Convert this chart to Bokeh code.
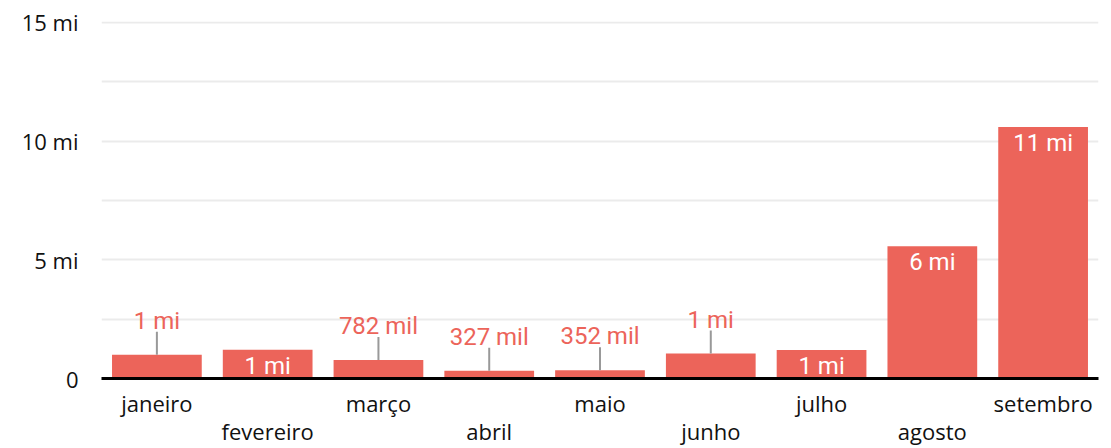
from bokeh.plotting import figure
from bokeh.models import ColumnDataSource, FixedTicker, LinearAxis, Range1d
from bokeh.core.properties import value
from bokeh.embed import file_html
from bokeh.resources import INLINE

# ---- data ----
months = ["janeiro", "fevereiro", "março", "abril", "maio", "junho", "julho", "agosto", "setembro"]
values = [1000000, 1210000, 782000, 327000, 352000, 1050000, 1200000, 5570000, 10600000]
y_ticks = [0, 5, 10, 15]
y_tick_labels = ["0", "5 mi", "10 mi", "15 mi"]
grid_ticks = [0, 2.5, 5, 7.5, 10, 12.5, 15]

BAR = "#EC645A"
AXIS_FONT = "Open Sans"
LABEL_FONT = "Roboto"


def fmt(v):
    if v < 950_000:
        return f"{round(v / 1000)} mil"
    return f"{round(v / 1_000_000)} mi"


W, H = 1103, 448
BT, BB, BL, BR = 21, 70, 101, 5
Y_END = 15.04
frame_h = H - BT - BB
px_per_unit = frame_h / Y_END

idx = list(range(len(months)))
vals_m = [v / 1_000_000 for v in values]
labels = [fmt(v) for v in values]
inside = [v >= 1.1 for v in vals_m]

src_bar = ColumnDataSource(dict(x=idx, top=vals_m))
src_in = ColumnDataSource(dict(
    x=[k for k, i in zip(idx, inside) if i],
    top=[v for v, i in zip(vals_m, inside) if i],
    lab=[l for l, i in zip(labels, inside) if i],
))
lead = 23 / px_per_unit
src_out = ColumnDataSource(dict(
    x=[k for k, i in zip(idx, inside) if not i],
    top=[v for v, i in zip(vals_m, inside) if not i],
    top2=[v + lead for v, i in zip(vals_m, inside) if not i],
    lab=[l for l, i in zip(labels, inside) if not i],
))

p = figure(x_range=Range1d(-0.5, len(months) - 0.5), y_range=Range1d(0, Y_END),
           width=W, height=H, output_backend="svg", toolbar_location=None,
           min_border_top=BT, min_border_bottom=BB, min_border_left=BL, min_border_right=BR,
           x_axis_location=None)
p.outline_line_color = None
p.background_fill_color = "white"
p.border_fill_color = "white"

p.xgrid.grid_line_color = None
p.ygrid.ticker = FixedTicker(ticks=grid_ticks)
p.ygrid.grid_line_color = "#EBEBEB"
p.ygrid.grid_line_width = 2

yax = p.yaxis[0]
yax.ticker = FixedTicker(ticks=y_ticks)
yax.major_label_overrides = {t: l for t, l in zip(y_ticks, y_tick_labels)}
yax.axis_line_color = None
yax.major_tick_line_color = None
yax.minor_tick_line_color = None
yax.major_tick_out = 0
yax.major_label_standoff = 23
yax.major_label_text_font = AXIS_FONT
yax.major_label_text_font_size = "22px"
yax.major_label_text_color = "#111111"

p.vbar(x="x", top="top", width=0.81, source=src_bar, color=BAR, line_color=None)

p.segment(x0="x", y0="top", x1="x", y1="top2", source=src_out,
          line_color="#999999", line_width=2)
p.text(x="x", y="top2", text="lab", source=src_out, text_align="center",
       text_baseline="bottom", y_offset=3, text_color=BAR,
       text_font=value(LABEL_FONT), text_font_size="24px")
p.text(x="x", y="top", text="lab", source=src_in, text_align="center",
       text_baseline="top", y_offset=2, text_color="white",
       text_font=value(LABEL_FONT), text_font_size="24px")

# two staggered month axes
even = [k for k in idx if k % 2 == 0]
odd = [k for k in idx if k % 2 == 1]
ax1 = LinearAxis(ticker=FixedTicker(ticks=even),
                 major_label_overrides={k: months[k] for k in even})
ax2 = LinearAxis(ticker=FixedTicker(ticks=odd),
                 major_label_overrides={k: months[k] for k in odd})
for ax in (ax1, ax2):
    ax.major_tick_line_color = None
    ax.minor_tick_line_color = None
    ax.major_tick_out = 0
    ax.major_tick_in = 0
    ax.major_label_text_font = AXIS_FONT
    ax.major_label_text_font_size = "22px"
    ax.major_label_text_color = "#111111"
ax1.axis_line_color = "black"
ax1.axis_line_width = 3
ax1.major_label_standoff = 9
ax2.axis_line_color = None
ax2.major_label_standoff = -5
p.add_layout(ax1, "below")
p.add_layout(ax2, "below")

open("out.html", "w").write(file_html(p, INLINE))
